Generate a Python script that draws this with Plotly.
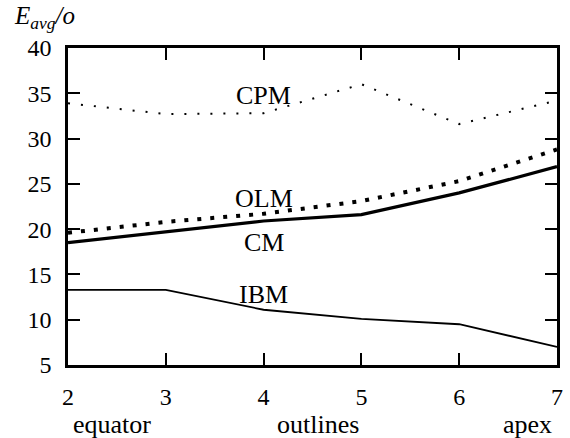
import plotly.graph_objects as go

x = [2, 3, 4, 5, 6, 7]
cpm = [33.9, 32.7, 32.8, 36.0, 31.6, 34.2]
olm = [19.6, 20.8, 21.7, 23.1, 25.3, 28.8]
cm = [18.5, 19.7, 20.9, 21.6, 24.0, 26.9]
ibm = [13.3, 13.3, 11.1, 10.1, 9.5, 7.0]

yticks = [5, 10, 15, 20, 25, 30, 35, 40]
xticks = [2, 3, 4, 5, 6, 7]
bottom_labels = ["equator", "outlines", "apex"]
bottom_pos = [2.45, 4.56, 6.70]
series_labels = ["CPM", "OLM", "CM", "IBM"]
label_pos = [(4.0, 34.8), (4.0, 23.4), (4.0, 18.5), (4.0, 12.8)]

FONT = "Liberation Serif"

fig = go.Figure()
fig.add_trace(go.Scatter(x=x, y=cpm, mode="lines",
                         line=dict(color="black", width=2, dash="2px,11px")))
fig.add_trace(go.Scatter(x=x, y=olm, mode="lines",
                         line=dict(color="black", width=4, dash="4px,9px")))
fig.add_trace(go.Scatter(x=x, y=cm, mode="lines",
                         line=dict(color="black", width=3.2)))
fig.add_trace(go.Scatter(x=x, y=ibm, mode="lines",
                         line=dict(color="black", width=1.8)))

for txt, (px, py) in zip(series_labels, label_pos):
    fig.add_annotation(x=px, y=py, text=txt, showarrow=False,
                       font=dict(family=FONT, size=26, color="black"))

for txt, px in zip(bottom_labels, bottom_pos):
    fig.add_annotation(x=px, y=-0.189, xref="x", yref="paper", text=txt,
                       showarrow=False, yanchor="middle",
                       font=dict(family=FONT, size=26, color="black"))

fig.add_annotation(x=-0.114, y=1.097, xref="paper", yref="paper",
                   text="<i>E</i><sub><i>avg</i></sub><i>/o</i>",
                   showarrow=False, xanchor="left", yanchor="middle",
                   font=dict(family=FONT, size=25, color="black"))

fig.update_xaxes(range=[2, 7], tickvals=xticks, ticks="inside", ticklen=12,
                 tickwidth=2, tickcolor="black", showline=True, linewidth=2.5,
                 linecolor="black", mirror="ticks", showgrid=False, zeroline=False,
                 tickfont=dict(family=FONT, size=24, color="black"),
                 ticklabelstandoff=8)
fig.update_yaxes(range=[5, 40], tickvals=yticks, ticks="inside", ticklen=12,
                 tickwidth=2, tickcolor="black", showline=True, linewidth=2.5,
                 linecolor="black", mirror="ticks", showgrid=False, zeroline=False,
                 tickfont=dict(family=FONT, size=24, color="black"),
                 ticklabelstandoff=9)

fig.update_layout(width=570, height=438, showlegend=False,
                  margin=dict(l=68, r=13, t=48, b=73, autoexpand=False),
                  plot_bgcolor="white", paper_bgcolor="white")

fig.write_html("out.html", config={"displayModeBar": False},
               post_script="document.body.style.margin='0';document.body.style.overflow='hidden';")
